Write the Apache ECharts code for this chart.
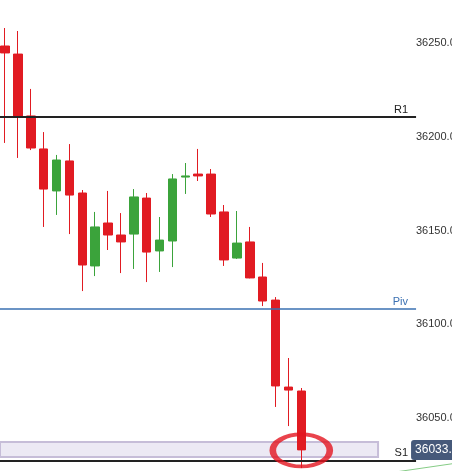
<!DOCTYPE html>
<html>
<head>
<meta charset="utf-8">
<script src="https://cdn.jsdelivr.net/npm/echarts@6/dist/echarts.min.js"></script>
<style>
html, body { margin: 0; padding: 0; background: #fff; }
#chart { width: 452px; height: 471px; }
</style>
</head>
<body>
<div id="chart"></div>
<script>
// candle values (one per bar, left to right)
const opens  = [36248.4, 36244.1, 36211.1, 36193.5, 36171.1, 36187.1, 36170.0, 36131.1, 36154.0, 36147.6, 36148.1, 36167.3,
                36139.1, 36144.4, 36178.5, 36180.1, 36180.1, 36159.9, 36135.3, 36143.9, 36125.2, 36112.9, 36066.5, 36064.4];
const closes = [36244.7, 36211.1, 36194.0, 36172.1, 36187.6, 36168.9, 36131.6, 36151.9, 36147.6, 36143.9, 36167.9, 36138.5,
                36144.9, 36177.5, 36179.1, 36179.1, 36158.8, 36134.3, 36143.3, 36124.7, 36112.4, 36067.1, 36064.9, 36033.0];
const lows   = [36196.7, 36188.7, 36192.9, 36151.9, 36158.3, 36148.1, 36117.7, 36125.7, 36139.6, 36127.3, 36129.5, 36122.5,
                36127.9, 36130.5, 36169.5, 36176.4, 36157.2, 36131.1, 36134.8, 36124.5, 36109.7, 36055.9, 36045.7, 36023.3];
const highs  = [36258.0, 36256.4, 36225.5, 36202.5, 36190.3, 36196.1, 36171.6, 36159.9, 36171.1, 36159.3, 36172.1, 36170.0,
                36157.2, 36180.1, 36186.0, 36193.5, 36182.8, 36163.6, 36160.4, 36151.9, 36132.7, 36114.5, 36082.0, 36066.0];

// visible x range in bar units
const xMin = -0.39;
const xMax = 34.7;

// pivot levels, drawn from the left edge up to lineEnd (in bar units)
const pivotNames  = ['R1', 'Piv', 'S1'];
const pivotValues = [36210.5, 36108.1, 36027.3];
const pivotColors = ['#222222', '#3a70b2', '#222222'];
const lineEnd = 31.91;

const lastPrice = 36033;

// highlighted support zone (x end in bar units, price band)
const zoneEnd = 28.96;
const zonePrices = [36029.2, 36037.2];

// circled bar
const markedBar = [23, 36032.7];

// trend line segment in bottom right
const trendX = [29.11, 35.32];
const trendY = [36020.0, 36026.2];

const candles = opens.map((o, i) => [i, o, closes[i], lows[i], highs[i]]);

const chart = echarts.init(document.getElementById('chart'));

const pivotLines = pivotNames.map((name, i) => [
  {
    coord: [xMin, pivotValues[i]],
    lineStyle: { color: pivotColors[i], width: i === 1 ? 1.5 : 2, type: 'solid' },
    label: {
      show: true,
      position: 'insideEndTop',
      distance: [8, 2],
      formatter: name,
      color: pivotColors[i],
      fontSize: 11,
      fontFamily: 'Liberation Sans'
    }
  },
  { coord: [lineEnd, pivotValues[i]] }
]);

const priceTag = [
  {
    coord: [xMin, lastPrice],
    lineStyle: { color: 'rgba(0,0,0,0)', width: 0 },
    label: {
      show: true,
      position: 'end',
      distance: -5,
      formatter: lastPrice.toFixed(2),
      color: '#fff',
      fontSize: 12,
      fontFamily: 'Liberation Sans',
      backgroundColor: '#46597a',
      padding: [4, 4, 4, 4],
      lineHeight: 12,
      borderRadius: 3
    }
  },
  { coord: [lineEnd, lastPrice] }
];

chart.setOption({
  animation: false,
  grid: { left: 0, right: 0, top: -50.75, bottom: -40.75, outerBoundsMode: 'none', containLabel: false },
  xAxis: {
    type: 'value',
    min: xMin,
    max: xMax,
    show: false
  },
  yAxis: {
    type: 'value',
    position: 'right',
    min: 36000,
    max: 36300,
    interval: 50,
    axisLine: { show: false },
    axisTick: { show: false },
    splitLine: { show: false },
    axisLabel: {
      margin: -36,
      align: 'left',
      color: '#333',
      fontSize: 11,
      fontFamily: 'Liberation Sans',
      formatter: v => v.toFixed(2)
    }
  },
  series: [
    {
      type: 'candlestick',
      data: candles,
      barWidth: 9,
      itemStyle: {
        color: '#3ba33b',
        color0: '#e11b22',
        borderColor: '#3ba33b',
        borderColor0: '#e11b22',
        borderWidth: 1
      },
      markArea: {
        silent: true,
        itemStyle: {
          color: 'rgba(230,226,240,0.75)',
          borderColor: '#c6bdd8',
          borderWidth: 2
        },
        data: [[
          { xAxis: xMin - 1, yAxis: zonePrices[0] },
          { xAxis: zoneEnd, yAxis: zonePrices[1] }
        ]]
      },
      markLine: {
        silent: true,
        symbol: 'none',
        data: pivotLines.concat([priceTag])
      }
    },
    {
      type: 'line',
      data: trendX.map((x, i) => [x, trendY[i]]),
      symbol: 'none',
      lineStyle: { color: '#86cc86', width: 1 },
      z: 1
    },
    {
      type: 'scatter',
      data: [markedBar],
      symbol: 'circle',
      symbolSize: [57, 32],
      itemStyle: {
        color: 'rgba(0,0,0,0)',
        borderColor: '#e3141f',
        borderWidth: 5
      },
      z: 5
    }
  ]
});
</script>
</body>
</html>
